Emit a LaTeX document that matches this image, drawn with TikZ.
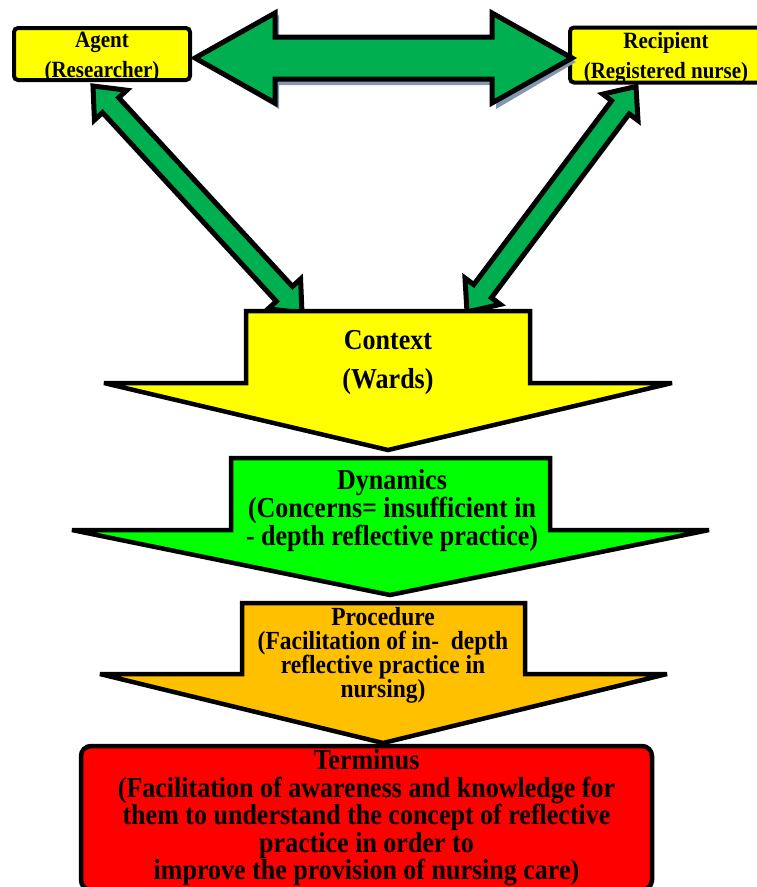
\documentclass[tikz,border=0pt]{standalone}
\usepackage{fontspec}
\setmainfont[FakeStretch=0.9]{Liberation Serif}
\usetikzlibrary{calc}

\definecolor{arrowgreen}{HTML}{00B050}
\definecolor{ctxyellow}{HTML}{FFFF00}
\definecolor{dyngreen}{HTML}{00FF00}
\definecolor{procorange}{HTML}{FFC000}
\definecolor{termred}{HTML}{FF0000}
\definecolor{shadowgrey}{HTML}{8497B0}

\tikzset{
    outline/.style={draw=black, line width=4.5pt, miter limit=2.5},
    rolebox/.style={outline, line width=4pt, fill=ctxyellow, rounded corners=4pt,
        align=center, inner sep=0pt, font=\bfseries\fontsize{23.3}{30}\selectfont},
    fat/.style={outline, line width=5pt, fill=arrowgreen},
    stagetext/.style={align=center, inner sep=0pt},
}

% double block arrow between two points: shaft half, head half, head length
\newcommand{\fatarrow}[6][]{%
    \coordinate (fa1) at ($(#2)!#6!(#3)$);
    \coordinate (fa2) at ($(#3)!#6!(#2)$);
    \path[fat,#1] (#2) -- ($(fa1)!#5!90:(#3)$) -- ($(fa1)!#4!90:(#3)$)
        -- ($(fa2)!#4!-90:(#2)$) -- ($(fa2)!#5!-90:(#2)$) -- (#3)
        -- ($(fa2)!#5!90:(#2)$) -- ($(fa2)!#4!90:(#2)$)
        -- ($(fa1)!#4!-90:(#3)$) -- ($(fa1)!#5!-90:(#3)$) -- cycle;}

\begin{document}
\begin{tikzpicture}[x=1pt,y=-1pt]
    \useasboundingbox (0,0) rectangle (757,887);

    \node[rolebox, minimum width=176pt, minimum height=52pt] (agent) at (102,54) {};
    \node[rolebox, minimum width=192pt, minimum height=55pt] (recipient) at (666,55) {};
    \node[stagetext, font=\bfseries\fontsize{23.3}{30}\selectfont] (agenttext) at (102,57) {Agent\\(Researcher)};
    \node[stagetext, font=\bfseries\fontsize{23.3}{30}\selectfont] (reciptext) at (666,58) {Recipient\\(Registered nurse)};

    \coordinate (agentR) at ($(agent.east)+(3,4)$);
    \coordinate (recipL) at ($(recipient.west)+(4,3)$);
    \coordinate (agentB) at ($(agent.south)+(-9,4)$);
    \coordinate (recipB) at ($(recipient.south)+(-30,2)$);
    \coordinate (ctxL) at (302,313);
    \coordinate (ctxR) at (467,312);

    % top arrow with its shadow
    \fatarrow[fill=shadowgrey, draw=none, transform canvas={shift={(4,4)}}]{agentR}{recipL}{23pt}{47pt}{80pt}
    \fatarrow{agentR}{recipL}{21pt}{45pt}{80pt}

    % diagonal arrows
    \fatarrow{agentB}{ctxL}{11pt}{22pt}{26pt}
    \fatarrow{recipB}{ctxR}{11pt}{22pt}{26pt}

    % stages
    \path[outline, fill=ctxyellow] (246,311) -- (530,311) -- (530,383) -- (672,383) -- (388,450)
        -- (104,383) -- (246,383) -- cycle;
    \path[outline, fill=dyngreen] (231,458) -- (550,458) -- (550,530) -- (709,530) -- (390,595)
        -- (72,530) -- (231,530) -- cycle;
    \path[outline, fill=procorange] (242,603) -- (525,603) -- (525,674) -- (667,674) -- (383,743)
        -- (100,674) -- (242,674) -- cycle;

    \node[stagetext, font=\bfseries\fontsize{28.9}{39}\selectfont] (context) at (388,363) {Context\\(Wards)};
    \node[stagetext, font=\bfseries\fontsize{28.9}{28}\selectfont] (dynamics) at (392,511)
        {Dynamics\\(Concerns= insufficient in\\- depth reflective practice)};
    \node[stagetext, font=\bfseries\fontsize{26.1}{24}\selectfont] (procedure) at (383,655)
        {Procedure\\(Facilitation of in-~ depth\\reflective practice in\\nursing)};

    \node[outline, fill=termred, rounded corners=10pt, minimum width=571pt, minimum height=144pt,
        stagetext, font=\bfseries\fontsize{28.9}{27.5}\selectfont] (terminus) at (366.5,818)
        {Terminus\\(Facilitation of awareness and knowledge for\\them to understand the concept of reflective\\practice in order to\\improve the provision of nursing care)};
\end{tikzpicture}
\end{document}
